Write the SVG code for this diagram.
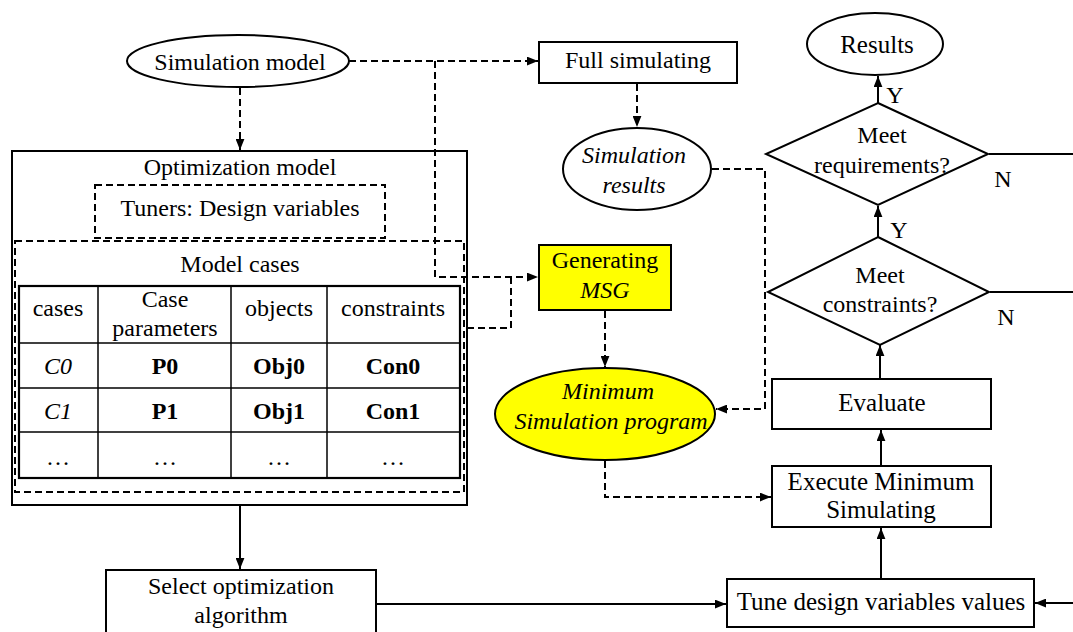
<svg xmlns="http://www.w3.org/2000/svg" width="1073" height="632" viewBox="0 0 1073 632">
  <style>
    text { font-family: "Liberation Serif", "Times New Roman", serif; font-size: 24px; fill: #000; text-anchor: middle; }
    .lg { font-size: 25px; }
    .it { font-style: italic; }
    .bd { font-weight: bold; }
    .box { fill: #fff; stroke: #000; stroke-width: 2; }
    .hl { fill: #ffff00; stroke: #000; stroke-width: 2; }
    .dbox { fill: none; stroke: #000; stroke-width: 2; stroke-dasharray: 7 4; }
    .grid { stroke: #000; stroke-width: 1.5; }
    .edge { fill: none; stroke: #000; stroke-width: 2; }
    .dash { fill: none; stroke: #000; stroke-width: 2; stroke-dasharray: 7 4; }
  </style>
  <defs>
    <marker id="arrow" viewBox="0 0 10 8" refX="10" refY="4" markerWidth="11" markerHeight="9" markerUnits="userSpaceOnUse" orient="auto">
      <path d="M0,0 L10,4 L0,8 Z" fill="#000"/>
    </marker>
  </defs>

  <rect width="1073" height="632" fill="#fff"/>

  <g id="simulation-model">
    <ellipse class="box" cx="238" cy="61" rx="111" ry="26"/>
    <text x="240" y="70">Simulation model</text>
  </g>

  <g id="optimization-model">
    <rect class="box" x="12" y="151" width="455" height="354"/>
    <text x="240" y="175">Optimization model</text>
    <g id="tuners">
      <rect class="dbox" x="95" y="185" width="290" height="53"/>
      <text x="240" y="216">Tuners: Design variables</text>
    </g>
    <g id="model-cases">
      <rect class="dbox" x="15" y="241" width="449" height="251"/>
      <text x="240" y="272">Model cases</text>
      <g id="cases-table">
        <rect x="19" y="286" width="441" height="192" fill="none" stroke="#000" stroke-width="2.2"/>
        <line class="grid" x1="98" y1="286" x2="98" y2="478"/>
        <line class="grid" x1="231" y1="286" x2="231" y2="478"/>
        <line class="grid" x1="327" y1="286" x2="327" y2="478"/>
        <line class="grid" x1="19" y1="343" x2="460" y2="343" stroke-width="2"/>
        <line class="grid" x1="19" y1="388" x2="460" y2="388" stroke-width="2"/>
        <line class="grid" x1="19" y1="432" x2="460" y2="432" stroke-width="2"/>
        <text x="58" y="316">cases</text>
        <text x="165" y="307">Case</text>
        <text x="165" y="336">parameters</text>
        <text x="279" y="316">objects</text>
        <text x="393" y="316">constraints</text>
        <text class="it" x="58" y="374">C0</text>
        <text class="bd" x="165" y="374">P0</text>
        <text class="bd" x="279" y="374">Obj0</text>
        <text class="bd" x="393" y="374">Con0</text>
        <text class="it" x="58" y="419">C1</text>
        <text class="bd" x="165" y="419">P1</text>
        <text class="bd" x="279" y="419">Obj1</text>
        <text class="bd" x="393" y="419">Con1</text>
        <text x="58" y="465">…</text>
        <text x="165" y="465">…</text>
        <text x="279" y="465">…</text>
        <text x="393" y="465">…</text>
      </g>
    </g>
  </g>

  <g id="select-algorithm">
    <rect class="box" x="106" y="570" width="270" height="80"/>
    <text x="241" y="594">Select optimization</text>
    <text x="241" y="623">algorithm</text>
  </g>

  <g id="full-simulating">
    <rect class="box" x="539" y="42" width="198" height="41"/>
    <text x="638" y="68">Full simulating</text>
  </g>

  <g id="simulation-results">
    <ellipse class="box" cx="637" cy="169" rx="74" ry="41"/>
    <text class="it" x="634" y="163">Simulation</text>
    <text class="it" x="634" y="193">results</text>
  </g>

  <g id="generating-msg">
    <rect class="hl" x="539" y="245" width="132" height="65"/>
    <text x="605" y="268">Generating</text>
    <text class="it" x="605" y="298">MSG</text>
  </g>

  <g id="minimum-program">
    <ellipse class="hl" cx="605" cy="414" rx="110" ry="46"/>
    <text class="it" x="608" y="399">Minimum</text>
    <text class="it" x="611" y="429">Simulation program</text>
  </g>

  <g id="results">
    <ellipse class="box" cx="875" cy="44" rx="68" ry="31"/>
    <text class="lg" x="877" y="53">Results</text>
  </g>

  <g id="meet-requirements">
    <polygon class="box" points="878,103 988,154 878,205 766,154"/>
    <text x="882" y="143">Meet</text>
    <text x="882" y="173">requirements?</text>
  </g>

  <g id="meet-constraints">
    <polygon class="box" points="878,237 989,292 880,345 768,292"/>
    <text x="880" y="283">Meet</text>
    <text x="880" y="312">constraints?</text>
  </g>

  <g id="evaluate">
    <rect class="box" x="772" y="379" width="219" height="50"/>
    <text class="lg" x="882" y="411">Evaluate</text>
  </g>

  <g id="execute-minimum">
    <rect class="box" x="772" y="466" width="219" height="61"/>
    <text class="lg" x="881" y="490">Execute Minimum</text>
    <text class="lg" x="881" y="518">Simulating</text>
  </g>

  <g id="tune-variables">
    <rect class="box" x="727" y="579" width="307" height="48"/>
    <text class="lg" x="881" y="610">Tune design variables values</text>
  </g>

  <!-- connectors, drawn last so the model-case feed shows through the optimization box -->
  <g id="connectors">
    <path class="dash" d="M240,88 V150" marker-end="url(#arrow)"/>
    <path class="dash" d="M349,61 H538" marker-end="url(#arrow)"/>
    <path class="dash" d="M435,61 V277 H538" marker-end="url(#arrow)"/>
    <path class="dash" d="M467,328 H511 V277"/>
    <path class="dash" d="M637,84 V127" marker-end="url(#arrow)"/>
    <path class="dash" d="M712,169 H765 V409 H716" marker-end="url(#arrow)"/>
    <path class="dash" d="M605,311 V367" marker-end="url(#arrow)"/>
    <path class="dash" d="M605,461 V497 H771" marker-end="url(#arrow)"/>
    <path class="edge" d="M240,506 V569" marker-end="url(#arrow)"/>
    <path class="edge" d="M377,604 H726" marker-end="url(#arrow)"/>
    <path class="edge" d="M881,578 V528" marker-end="url(#arrow)"/>
    <path class="edge" d="M881,465 V430" marker-end="url(#arrow)"/>
    <path class="edge" d="M880,378 V345" marker-end="url(#arrow)"/>
    <path class="edge" d="M878,237 V206" marker-end="url(#arrow)"/>
    <path class="edge" d="M878,103 V76" marker-end="url(#arrow)"/>
    <path class="edge" d="M990,292 H1073"/>
    <path class="edge" d="M989,154 H1073"/>
    <path class="edge" d="M1073,603 H1035" marker-end="url(#arrow)"/>
    <text x="899" y="238">Y</text>
    <text x="895" y="103">Y</text>
    <text x="1006" y="325">N</text>
    <text x="1003" y="187">N</text>
  </g>
</svg>
